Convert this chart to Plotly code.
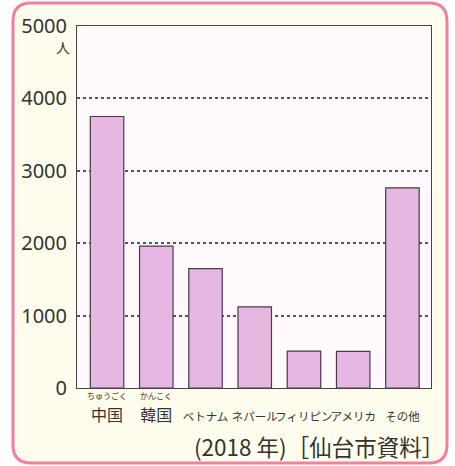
import plotly.graph_objects as go

categories = ["中国", "韓国", "ベトナム", "ネパール", "フィリピン", "アメリカ", "その他"]
values = [3750, 1960, 1650, 1120, 510, 505, 2765]
ruby = {"中国": "ちゅうごく", "韓国": "かんこく"}
tick_vals = [0, 1000, 2000, 3000, 4000, 5000]
tick_text = ["0", "1000", "2000", "3000", "4000", "5000"]
unit_label = "人"
source_note = "(2018 年)［仙台市資料］"

W, H = 455, 466
ML, MR, MT, MB = 77, 24, 26, 78
PW, PH = W - ML - MR, H - MT - MB


def px(x):
    return (x - ML) / PW


def py(y):
    return (H - MB - y) / PH


def rounded_rect(x0, y0, x1, y1, r):
    return (
        f"M {px(x0 + r)} {py(y0)} L {px(x1 - r)} {py(y0)} "
        f"Q {px(x1)} {py(y0)} {px(x1)} {py(y0 + r)} "
        f"L {px(x1)} {py(y1 - r)} Q {px(x1)} {py(y1)} {px(x1 - r)} {py(y1)} "
        f"L {px(x0 + r)} {py(y1)} Q {px(x0)} {py(y1)} {px(x0)} {py(y1 - r)} "
        f"L {px(x0)} {py(y0 + r)} Q {px(x0)} {py(y0)} {px(x0 + r)} {py(y0)} Z"
    )


CJK = "Noto Sans CJK JP"

ticklabels = []
for c in categories:
    if c in ruby:
        ticklabels.append(c)
    else:
        ticklabels.append(f"<span style='font-size:11.5px'>{c}</span>")

fig = go.Figure()
fig.add_trace(go.Bar(
    x=categories,
    y=values,
    width=0.68,
    marker=dict(color="#E6B7E0", line=dict(color="#4a3a48", width=1.2)),
    hoverinfo="skip",
))

annotations = []
for c in categories:
    if c in ruby:
        annotations.append(dict(
            x=c, xref="x", y=py(395), yref="paper", text=ruby[c],
            showarrow=False, xanchor="center", yanchor="middle",
            font=dict(family=CJK, size=8, color="#333"),
        ))
annotations.append(dict(
    x=px(63), xref="paper", y=py(47), yref="paper", text=unit_label,
    showarrow=False, xanchor="center", yanchor="middle",
    font=dict(family=CJK, size=14, color="#333"),
))
annotations.append(dict(
    x=px(446), xref="paper", y=py(446), yref="paper", text=source_note,
    showarrow=False, xanchor="right", yanchor="middle",
    font=dict(family=CJK, size=22.5, color="#333"),
))

fig.update_layout(
    width=W, height=H,
    margin=dict(l=ML, r=MR, t=MT, b=MB, pad=0),
    paper_bgcolor="#FFFFFF",
    plot_bgcolor="#FFF9FC",
    showlegend=False,
    annotations=annotations,
    shapes=[
        dict(type="path", xref="paper", yref="paper",
             path=rounded_rect(13, 3, 447, 463, 18),
             fillcolor="#FEFDED", line=dict(color="#F07FA0", width=3),
             layer="below"),
        dict(type="rect", xref="paper", yref="paper",
             x0=0, x1=1, y0=0, y1=1,
             fillcolor="#FFF9FC", line=dict(width=0),
             layer="below"),
    ],
    xaxis=dict(
        type="category",
        range=[-0.61, 6.58],
        tickmode="array", tickvals=categories, ticktext=ticklabels,
        tickangle=0,
        tickfont=dict(family=CJK, size=16, color="#333"),
        ticklabelstandoff=13,
        showline=True, mirror=True, linecolor="#444", linewidth=1,
        showgrid=False, ticks="",
        fixedrange=True,
    ),
    yaxis=dict(
        range=[0, 5000],
        tickmode="array", tickvals=tick_vals, ticktext=tick_text,
        tickfont=dict(family="Noto Sans", size=20, color="#333"),
        ticklabelstandoff=5,
        showline=True, mirror=True, linecolor="#444", linewidth=1,
        showgrid=True, gridcolor="#555", griddash="dot", gridwidth=1.5,
        zeroline=False, ticks="",
        fixedrange=True,
    ),
)

fig.write_html("out.html", config={"displayModeBar": False},
               post_script="document.body.style.margin='0';")
